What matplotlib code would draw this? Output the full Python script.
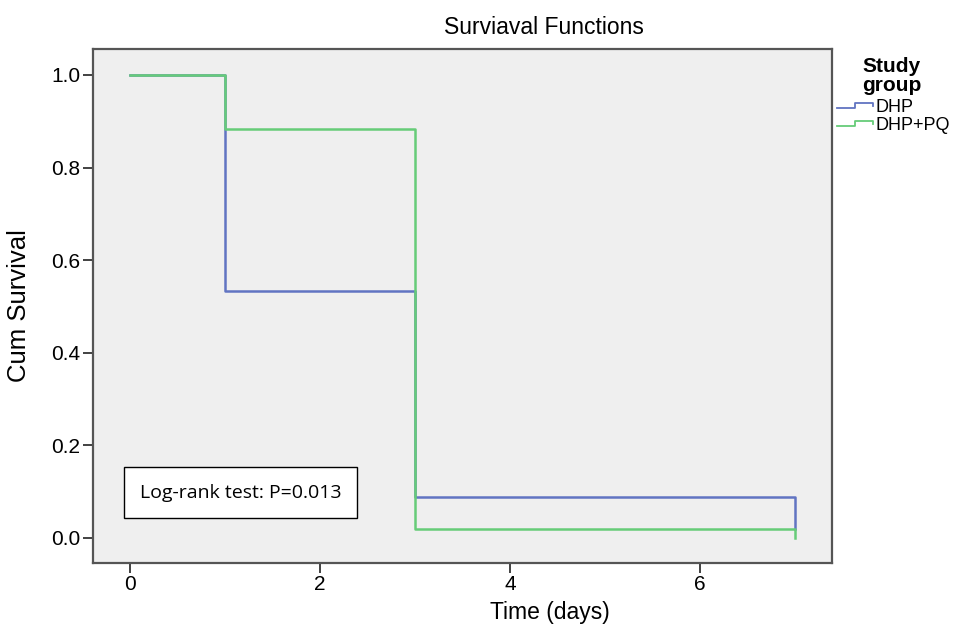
import matplotlib
matplotlib.use("Agg")
import matplotlib.pyplot as plt
from matplotlib.legend_handler import HandlerLine2D
from matplotlib.lines import Line2D
from matplotlib.patches import Rectangle

plt.rcParams["font.family"] = ["Liberation Sans", "DejaVu Sans"]

# Kaplan-Meier step values
times = [0, 1, 3, 7]
dhp_surv = [1.0, 0.533, 0.088, 0.02]
dhp_pq_surv = [1.0, 0.883, 0.02, 0.0]
group_names = ["DHP", "DHP+PQ"]
group_colors = ["#6174c2", "#66cc78"]
x_ticks = [0, 2, 4, 6]
y_ticks = [0.0, 0.2, 0.4, 0.6, 0.8, 1.0]


class StepHandler(HandlerLine2D):
    def create_artists(self, legend, orig_handle, xdescent, ydescent,
                       width, height, fontsize, trans):
        x0, x1 = -xdescent, -xdescent + width
        ym = height / 2 - ydescent
        xs = [x0, x0 + width * 0.5, x0 + width * 0.5, x1, x1]
        ys = [ym - height * 0.2, ym - height * 0.2, ym + height * 0.2,
              ym + height * 0.2, ym - height * 0.05]
        line = Line2D(xs, ys, color=orig_handle.get_color(), lw=1.3)
        line.set_transform(trans)
        return [line]


def km_steps(t, s):
    xs, ys = [t[0]], [s[0]]
    for i in range(1, len(t)):
        xs += [t[i], t[i]]
        ys += [s[i - 1], s[i]]
    return xs, ys


fig = plt.figure(figsize=(9.54, 6.24), dpi=100)
ax = fig.add_axes([93 / 954, 1 - 563 / 624, (832 - 93) / 954, (563 - 49) / 624])
ax.set_facecolor("#efefef")

handles = []
for surv, name, color in zip([dhp_surv, dhp_pq_surv], group_names, group_colors):
    xs, ys = km_steps(times, surv)
    (h,) = ax.plot(xs, ys, color=color, lw=1.8, label=name)
    handles.append(h)

ax.set_xlim(-0.39, 7.39)
ax.set_ylim(-0.054, 1.056)
ax.set_xticks(x_ticks)
ax.set_yticks(y_ticks)
ax.set_yticklabels([f"{v:.1f}" for v in y_ticks])
ax.tick_params(labelsize=15, length=7, width=1.3, color="#333333", pad=2)
for side in ["left", "right", "top", "bottom"]:
    ax.spines[side].set_color("#555555")
    ax.spines[side].set_linewidth(1.6)
ax.set_xlabel("Time (days)", fontsize=16.5)
ax.xaxis.set_label_coords((550 - 93) / 739, (563 - 601) / 514)
ax.set_ylabel("Cum Survival", fontsize=18.5)
ax.yaxis.set_label_coords((31 - 93) / 739, 0.5)

fig.text(544 / 954, 1 - 27 / 624, "Surviaval Functions", fontsize=16.5,
         ha="center", va="center")

# annotation box with the test result
ax.add_patch(Rectangle(((124 - 93) / 739, (563 - 518) / 514), 233 / 739, 51 / 514,
                       transform=ax.transAxes, facecolor="white",
                       edgecolor="black", linewidth=1.0, zorder=3))
ax.text((240.5 - 93) / 739, (563 - 492.5) / 514, "Log-rank test: P=0.013",
        transform=ax.transAxes, fontsize=14, ha="center", va="center",
        family=["Open Sans", "DejaVu Sans"], zorder=4)

fig.text(862 / 954, 1 - 76 / 624, "Study\ngroup", fontsize=15,
         fontweight="bold", ha="left", va="center", linespacing=0.95)
fig.legend(handles=handles, labels=group_names, loc="upper left",
           bbox_to_anchor=(835 / 954, 1 - 97 / 624), frameon=False,
           fontsize=13, handlelength=2.0, handletextpad=0.15,
           labelspacing=0.05, borderaxespad=0, borderpad=0.1,
           handler_map={Line2D: StepHandler()})

fig.savefig("out.png", dpi=100)
